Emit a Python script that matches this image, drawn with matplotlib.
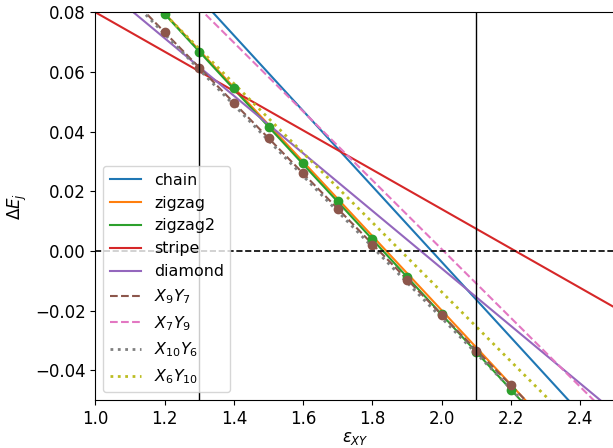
import matplotlib
matplotlib.use("Agg")
import matplotlib.pyplot as plt
import numpy as np

# Straight-line fits, values read at the x-limits
x_ends = [1.0, 2.5]
labels = ["chain", "zigzag", "zigzag2", "stripe", "diamond",
          r"$X_9Y_7$", r"$X_7Y_9$", r"$X_{10}Y_6$", r"$X_6Y_{10}$"]
chain = [0.1229, -0.0670]
zigzag = [0.1046, -0.0822]
zigzag2 = [0.1046, -0.0843]
stripe = [0.0800, -0.0190]
diamond = [0.0906, -0.0541]
x9y7 = [0.0970, -0.0806]
x7y9 = [0.1160, -0.0571]
x10y6 = [0.0965, -0.0820]
x6y10 = [0.1027, -0.0720]

# data points (markers)
pts_x = [1.2, 1.3, 1.4, 1.5, 1.6, 1.7, 1.8, 1.9, 2.0, 2.1, 2.2]
pts_zigzag2 = [0.0794, 0.0668, 0.0546, 0.0417, 0.0294, 0.0166, 0.0039,
               -0.0087, -0.0213, -0.0339, -0.0465]
pts_x9y7 = [0.0733, 0.0614, 0.0497, 0.0378, 0.0261, 0.0140, 0.0021,
            -0.0096, -0.0214, -0.0336, -0.0451]

vlines_x = [1.3, 2.1]

plt.rcParams['font.size'] = 12

fig = plt.figure(figsize=(6.13, 4.48), dpi=100)
ax = fig.add_axes([95.4 / 613, 48 / 448, 519.4 / 613, 387.7 / 448])

series = [chain, zigzag, zigzag2, stripe, diamond, x9y7, x7y9, x10y6, x6y10]
styles = ['-', '-', '-', '-', '-', '--', '--', ':', ':']
colors = ['C0', 'C1', 'C2', 'C3', 'C4', 'C5', 'C6', 'C7', 'C8']
widths = [1.5, 1.5, 1.5, 1.5, 1.5, 1.5, 1.5, 2.0, 2.0]
for ys, ls, c, lw, lab in zip(series, styles, colors, widths, labels):
    ax.plot(x_ends, ys, ls=ls, color=c, lw=lw, label=lab)

ax.plot(pts_x, pts_zigzag2, 'o', color='C2', ms=6)
ax.plot(pts_x, pts_x9y7, 'o', color='C5', ms=6)

ax.axhline(0, color='black', ls='--', lw=1.2)
for xv in vlines_x:
    ax.axvline(xv, color='black', lw=1)

ax.set_xlim(1.0, 2.5)
ax.set_ylim(-0.05, 0.08)
ax.set_xticks([1.0, 1.2, 1.4, 1.6, 1.8, 2.0, 2.2, 2.4])
ax.set_yticks([-0.04, -0.02, 0.0, 0.02, 0.04, 0.06, 0.08])
ax.set_xlabel(r'$\varepsilon_{XY}$', labelpad=1)
ax.set_ylabel(r'$\Delta E_j$')
ax.legend(loc='lower left', fontsize=11.4)

fig.savefig('out.png', dpi=100)
